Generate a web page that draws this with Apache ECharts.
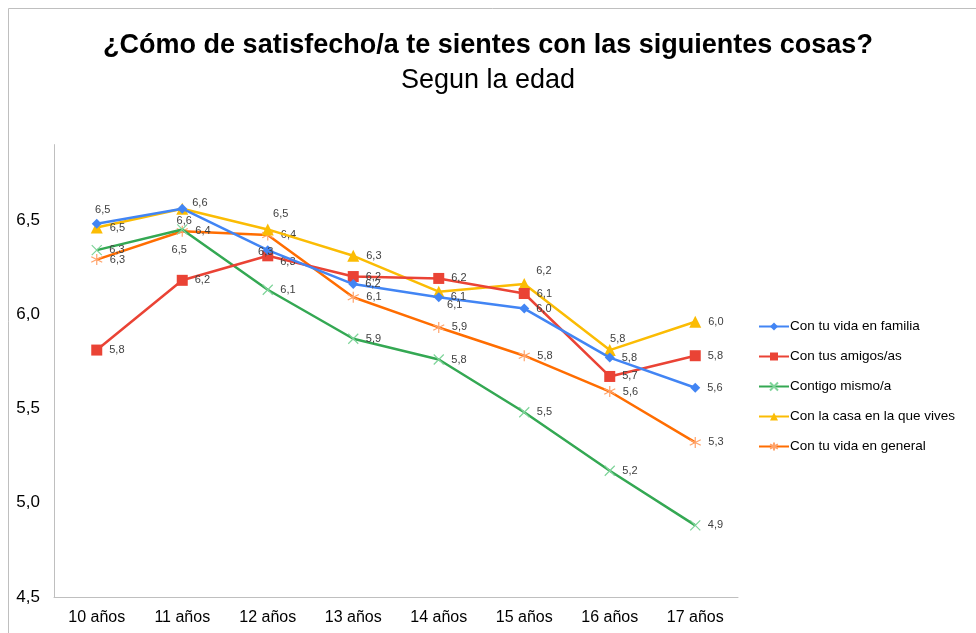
<!DOCTYPE html>
<html>
<head>
<meta charset="utf-8">
<script src="https://cdn.jsdelivr.net/npm/echarts@6/dist/echarts.min.js"></script>
<style>
html,body{margin:0;padding:0;background:#fff;}
#chart{width:976px;height:633px;}
</style>
</head>
<body>
<div id="chart"></div>
<script>
// ---- data ----
const categories = ['10 años','11 años','12 años','13 años','14 años','15 años','16 años','17 años'];
const seriesNames = ['Con tu vida en familia','Con tus amigos/as','Contigo mismo/a','Con la casa en la que vives','Con tu vida en general'];
const familia  = [6.48, 6.56, 6.34, 6.16, 6.09, 6.03, 5.77, 5.61];
const amigos   = [5.81, 6.18, 6.31, 6.20, 6.19, 6.11, 5.67, 5.78];
const mismo    = [6.34, 6.45, 6.13, 5.87, 5.76, 5.48, 5.17, 4.88];
const casa     = [6.46, 6.56, 6.45, 6.31, 6.12, 6.16, 5.81, 5.96];
const general  = [6.29, 6.44, 6.42, 6.09, 5.93, 5.78, 5.59, 5.32];
const yTicks = {min: 4.5, max: 6.9, interval: 0.5};

// ---- styles ----
const FONT = 'Liberation Sans, Arial, sans-serif';
const colors = ['#4285F4','#EA4335','#34A853','#FBBC04','#FF6D01'];
const markerColors = ['#4285F4','#EA4335','#7fd49a','#FBBC04','#ffa36b'];
const symbols = [
  'diamond',
  'rect',
  'path://M0,0L10,10M10,0L0,10',
  'triangle',
  'path://M5,0L5,10M0.7,2.5L9.3,7.5M0.7,7.5L9.3,2.5'
];
const symbolSizes = [10, 11, 10, 12, 11];
// label placements per series/point: [position, dx, dy]
const R = ['right', 0, 0];
const labelPlace = [
  [['top',6,4], ['bottom',2,-5], ['top',-2,19], R, R, R, R, R],
  [R, R, ['right',0,6], R, R, R, R, R],
  [R, ['bottom',-3,2], R, R, R, R, R, R],
  [R, ['right',-3,-6], ['top',13,3], R, ['bottom',16,-5], ['right',-1,-13], ['top',8,7], R],
  [R, R, R, R, R, R, R, R]
];
const allData = [familia, amigos, mismo, casa, general];

function fmt(v){ return v.toFixed(1).replace('.', ','); }

const series = allData.map((arr, si) => ({
  name: seriesNames[si],
  type: 'line',
  data: arr.map((v, i) => {
    const p = labelPlace[si][i];
    return {value: v, label: {position: p[0], offset: [p[1], p[2]]}};
  }),
  symbol: symbols[si],
  symbolSize: symbolSizes[si],
  showAllSymbol: true,
  lineStyle: {color: colors[si], width: 2.5},
  itemStyle: {
    color: (si === 2 || si === 4) ? 'rgba(0,0,0,0)' : markerColors[si],
    borderColor: markerColors[si],
    borderWidth: (si === 2 || si === 4) ? 1.2 : 0
  },
  emphasis: {disabled: true},
  label: {
    show: true,
    formatter: p => fmt(p.value),
    fontFamily: FONT,
    fontSize: 11,
    color: '#404040',
    distance: 7
  },
  z: 10 - si
}));

const chart = echarts.init(document.getElementById('chart'), null, {renderer: 'canvas'});
chart.setOption({
  animation: false,
  backgroundColor: '#fff',
  graphic: [{
    type: 'rect', shape: {x: 8.5, y: 8.5, width: 1000, height: 1000},
    style: {fill: 'none', stroke: '#bfbfbf', lineWidth: 1}, silent: true
  }],
  title: [
    {text: '¿Cómo de satisfecho/a te sientes con las siguientes cosas?', left: 'center', top: 27,
     textStyle: {fontFamily: FONT, fontWeight: 'bold', fontSize: 27, color: '#000'}},
    {text: 'Segun la edad', left: 'center', top: 62,
     textStyle: {fontFamily: FONT, fontWeight: 'normal', fontSize: 27, color: '#000'}}
  ],
  legend: {
    orient: 'vertical', left: 753, top: 314, itemGap: 15,
    itemWidth: 30, itemHeight: 10,
    textStyle: {fontFamily: FONT, fontSize: 13.5, color: '#000', padding: [0,0,0,-4], lineHeight: 15},
    data: seriesNames
  },
  grid: {left: 54, right: 238, top: 144.6, bottom: 36, containLabel: false},
  xAxis: {
    type: 'category', data: categories, boundaryGap: true,
    axisLine: {lineStyle: {color: '#bfbfbf', width: 1}},
    axisTick: {show: false},
    axisLabel: {fontFamily: FONT, fontSize: 16, color: '#000', margin: 13}
  },
  yAxis: {
    type: 'value', min: yTicks.min, max: yTicks.max, interval: yTicks.interval,
    axisLine: {show: true, lineStyle: {color: '#bfbfbf', width: 1}},
    axisTick: {show: false},
    splitLine: {show: false},
    axisLabel: {fontFamily: FONT, fontSize: 17, color: '#000', margin: 14,
      showMaxLabel: false, formatter: v => v.toFixed(1).replace('.', ',')}
  },
  series: series
});
</script>
</body>
</html>
